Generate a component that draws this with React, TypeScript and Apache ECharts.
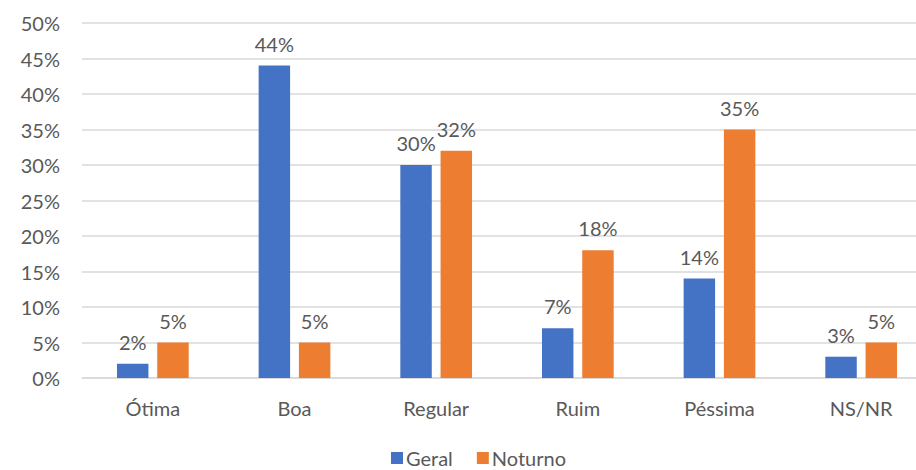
import React, { useEffect, useRef } from "react";
import * as echarts from "echarts";

const categories = ["Ótima", "Boa", "Regular", "Ruim", "Péssima", "NS/NR"];
const geral = [2, 44, 30, 7, 14, 3];
const noturno = [5, 5, 32, 18, 35, 5];
const seriesNames = ["Geral", "Noturno"];

const TEXT = "#595959";
const FONT = "Lato, 'Open Sans', sans-serif";
const SIZE = 20;

export default function App() {
  const ref = useRef<HTMLDivElement>(null);

  useEffect(() => {
    if (!ref.current) return;
    const chart = echarts.init(ref.current, undefined, { renderer: "svg" });
    const label = {
      show: true,
      position: "top" as const,
      distance: 12,
      formatter: "{c}%",
      color: TEXT,
      fontSize: SIZE,
      fontFamily: FONT,
    };
    chart.setOption({
      animation: false,
      backgroundColor: "#ffffff",
      textStyle: { fontFamily: FONT },
      // plot area runs past the right edge of the canvas
      grid: {
        left: 82,
        width: 850,
        top: 23,
        bottom: 92,
        containLabel: false,
        outerBoundsMode: "none",
      },
      legend: {
        data: seriesNames,
        bottom: -3,
        left: 386,
        itemWidth: 12,
        itemHeight: 12,
        itemGap: 24,
        icon: "rect",
        textStyle: { color: TEXT, fontSize: SIZE, fontFamily: FONT, padding: [0, 0, 0, -2] },
      },
      xAxis: {
        type: "category",
        data: categories,
        axisTick: { show: false },
        axisLine: { lineStyle: { color: "#d9d9d9", width: 1.5 } },
        axisLabel: { color: TEXT, fontSize: SIZE, fontFamily: FONT, margin: 20 },
      },
      yAxis: {
        type: "value",
        min: 0,
        max: 50,
        interval: 5,
        axisLine: { show: false },
        axisTick: { show: false },
        splitLine: { lineStyle: { color: "#d9d9d9", width: 1.5 } },
        axisLabel: { color: TEXT, fontSize: SIZE, fontFamily: FONT, formatter: "{value}%", margin: 22 },
      },
      series: [
        {
          name: seriesNames[0],
          type: "bar",
          data: geral,
          itemStyle: { color: "#4472c4" },
          barWidth: "22.2%",
          barGap: "28%",
          label,
        },
        {
          name: seriesNames[1],
          type: "bar",
          data: noturno,
          itemStyle: { color: "#ed7d31" },
          barWidth: "22.2%",
          label,
        },
      ],
    });
    return () => chart.dispose();
  }, []);

  return (
    <div
      ref={ref}
      style={{ position: "absolute", left: 0, top: 0, width: 916, height: 470, background: "#fff" }}
    />
  );
}
